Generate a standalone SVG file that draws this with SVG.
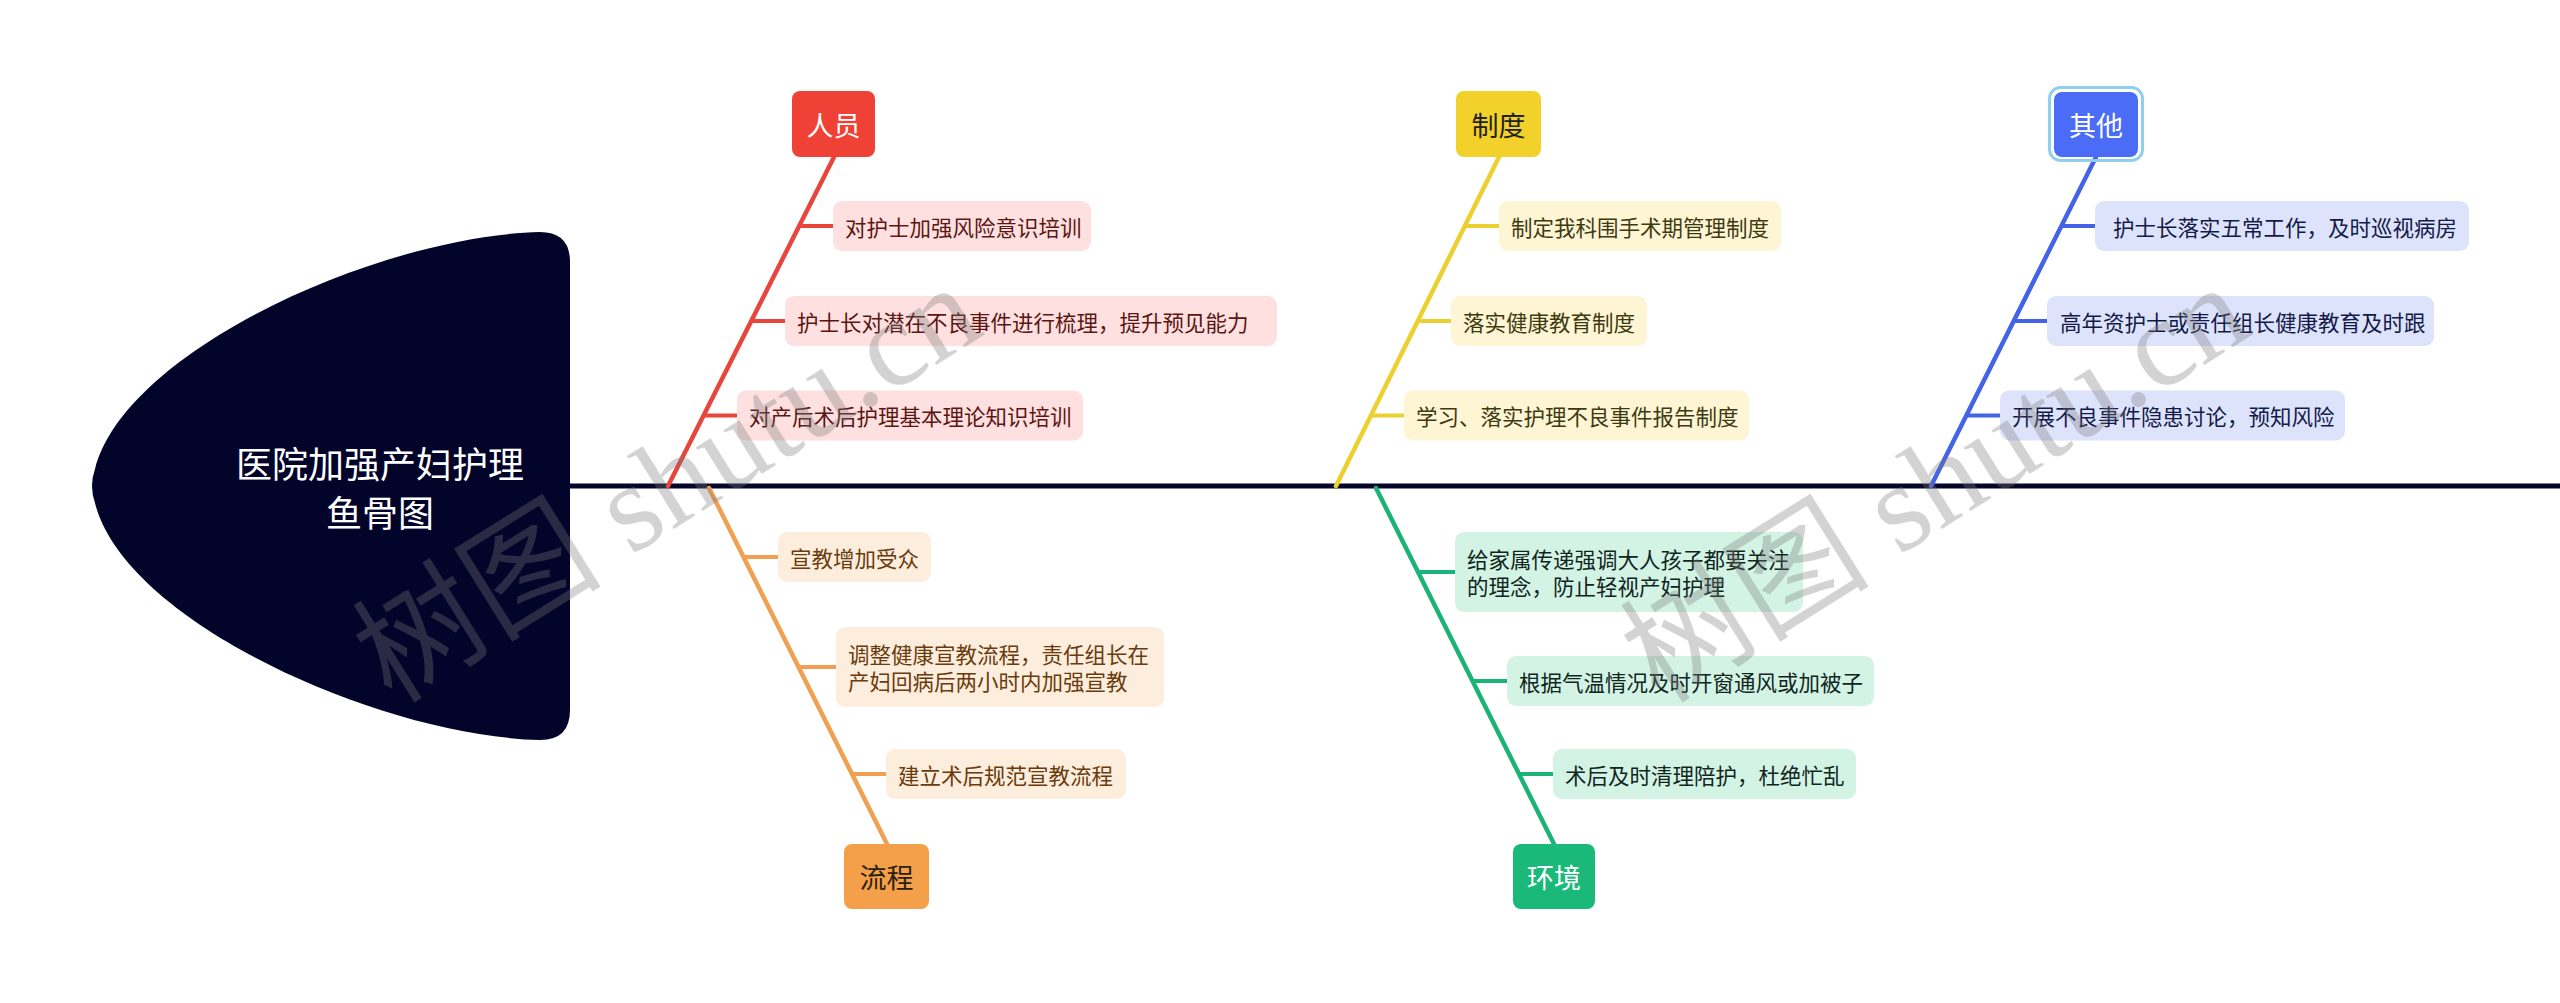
<svg xmlns="http://www.w3.org/2000/svg" width="2560" height="1003" viewBox="0 0 2560 1003">
<style>
text{font-family:"Noto Sans CJK SC","Liberation Sans",sans-serif}
.cat{font-size:27px;text-anchor:middle;dominant-baseline:central}
.sub{font-size:21.5px;dominant-baseline:central}
.bone{fill:none;stroke-width:4.5;stroke-linecap:round}
.stub{fill:none;stroke-width:4}
.wm{font-family:"Liberation Serif","Noto Sans CJK SC",serif;font-size:125px;fill:#7a7a7a;fill-opacity:0.33}
</style>
<rect width="2560" height="1003" fill="#ffffff"/>
<g id="head">
<path d="M540 232 Q570 232 570 262 L570 710 Q570 740 540 740 C380 736 125 622 95 503 Q89 486 95 469 C125 350 380 236 540 232 Z" fill="#03042a"/>
<text x="380" y="462" font-size="36" fill="#ffffff" text-anchor="middle" dominant-baseline="central">医院加强产妇护理</text>
<text x="380" y="511" font-size="36" fill="#ffffff" text-anchor="middle" dominant-baseline="central">鱼骨图</text>
</g>
<g id="connectors">
<line x1="570" y1="486" x2="2560" y2="486" stroke="#050628" stroke-width="5"/>
<g stroke="#e8453c">
<line class="bone" x1="834" y1="157" x2="668" y2="486"/>
<line class="stub" x1="799" y1="226" x2="833" y2="226"/>
<line class="stub" x1="751" y1="321" x2="785" y2="321"/>
<line class="stub" x1="704" y1="415.5" x2="737" y2="415.5"/>
</g>
<g stroke="#f0a050">
<line class="bone" x1="709" y1="488" x2="887" y2="844"/>
<line class="stub" x1="743.5" y1="557" x2="778" y2="557"/>
<line class="stub" x1="798.5" y1="667" x2="836" y2="667"/>
<line class="stub" x1="852" y1="774" x2="886" y2="774"/>
</g>
<g stroke="#ecd030">
<line class="bone" x1="1499" y1="157" x2="1336" y2="486"/>
<line class="stub" x1="1465" y1="226" x2="1499" y2="226"/>
<line class="stub" x1="1418" y1="321" x2="1451" y2="321"/>
<line class="stub" x1="1371" y1="415.5" x2="1404" y2="415.5"/>
</g>
<g stroke="#1ab478">
<line class="bone" x1="1376" y1="488" x2="1554" y2="844"/>
<line class="stub" x1="1418" y1="572" x2="1455" y2="572"/>
<line class="stub" x1="1472.5" y1="681" x2="1507" y2="681"/>
<line class="stub" x1="1519" y1="774" x2="1553" y2="774"/>
</g>
<g stroke="#4563e6">
<line class="bone" x1="2096" y1="157" x2="1931" y2="486"/>
<line class="stub" x1="2061" y1="226" x2="2095" y2="226"/>
<line class="stub" x1="2014" y1="321" x2="2047" y2="321"/>
<line class="stub" x1="1966" y1="415.5" x2="2000" y2="415.5"/>
</g>
</g>
<g id="cat-renyuan"><rect x="792" y="91" width="83" height="66" rx="8" fill="#ef4136"/><text class="cat" x="833.5" y="124" fill="#ffffff">人员</text></g>
<g id="cat-liucheng"><rect x="844" y="844" width="85" height="65" rx="8" fill="#f4a04a"/><text class="cat" x="886.5" y="876.5" fill="#2b2010">流程</text></g>
<g id="cat-zhidu"><rect x="1456" y="91" width="85" height="66" rx="8" fill="#f2d12a"/><text class="cat" x="1498.5" y="124" fill="#222222">制度</text></g>
<g id="cat-huanjing"><rect x="1513" y="844" width="82" height="65" rx="8" fill="#1bb979"/><text class="cat" x="1554" y="876.5" fill="#ffffff">环境</text></g>
<g id="cat-qita"><rect x="2049.5" y="87.5" width="93" height="73" rx="11" fill="none" stroke="#90d0ec" stroke-width="3"/><rect x="2054" y="92" width="84" height="65" rx="8" fill="#4a6cf7"/><text class="cat" x="2096" y="124.5" fill="#ffffff">其他</text></g>
<g id="r1"><rect x="833" y="201" width="258" height="50" rx="9" fill="#fde0df"/><text class="sub" x="845" y="226" fill="#5c1512">对护士加强风险意识培训</text></g>
<g id="r2"><rect x="785" y="296" width="492" height="50" rx="9" fill="#fde0df"/><text class="sub" x="797" y="321" fill="#5c1512">护士长对潜在不良事件进行梳理，提升预见能力</text></g>
<g id="r3"><rect x="737" y="390.5" width="346" height="50" rx="9" fill="#fde0df"/><text class="sub" x="749" y="415.5" fill="#5c1512">对产后术后护理基本理论知识培训</text></g>
<g id="o1"><rect x="778" y="532" width="153" height="50" rx="9" fill="#fdeddd"/><text class="sub" x="790" y="557" fill="#6a3b0c">宣教增加受众</text></g>
<g id="o2"><rect x="836" y="627" width="328" height="80" rx="9" fill="#fdeddd"/><text class="sub" x="848" y="653.5" fill="#6a3b0c">调整健康宣教流程，责任组长在</text><text class="sub" x="848" y="680.5" fill="#6a3b0c">产妇回病后两小时内加强宣教</text></g>
<g id="o3"><rect x="886" y="749" width="240" height="50" rx="9" fill="#fdeddd"/><text class="sub" x="898" y="774" fill="#6a3b0c">建立术后规范宣教流程</text></g>
<g id="y1"><rect x="1499" y="201" width="282" height="50" rx="9" fill="#fdf5d3"/><text class="sub" x="1511" y="226" fill="#3d3a12">制定我科围手术期管理制度</text></g>
<g id="y2"><rect x="1451" y="296" width="196" height="50" rx="9" fill="#fdf5d3"/><text class="sub" x="1463" y="321" fill="#3d3a12">落实健康教育制度</text></g>
<g id="y3"><rect x="1404" y="390.5" width="345" height="50" rx="9" fill="#fdf5d3"/><text class="sub" x="1416" y="415.5" fill="#3d3a12">学习、落实护理不良事件报告制度</text></g>
<g id="g1"><rect x="1455" y="532" width="348" height="80" rx="9" fill="#d3f3e5"/><text class="sub" x="1467" y="558.5" fill="#10261c">给家属传递强调大人孩子都要关注</text><text class="sub" x="1467" y="585.5" fill="#10261c">的理念，防止轻视产妇护理</text></g>
<g id="g2"><rect x="1507" y="656" width="367" height="50" rx="9" fill="#d3f3e5"/><text class="sub" x="1519" y="681" fill="#10261c">根据气温情况及时开窗通风或加被子</text></g>
<g id="g3"><rect x="1553" y="749" width="303" height="50" rx="9" fill="#d3f3e5"/><text class="sub" x="1565" y="774" fill="#10261c">术后及时清理陪护，杜绝忙乱</text></g>
<g id="b1"><rect x="2095" y="201" width="374" height="50" rx="9" fill="#dde3fb"/><text class="sub" x="2113" y="226" fill="#131a48">护士长落实五常工作，及时巡视病房</text></g>
<g id="b2"><rect x="2047" y="296" width="387" height="50" rx="9" fill="#dde3fb"/><text class="sub" x="2060" y="321" fill="#131a48">高年资护士或责任组长健康教育及时跟</text></g>
<g id="b3"><rect x="2000" y="390.5" width="345" height="50" rx="9" fill="#dde3fb"/><text class="sub" x="2012" y="415.5" fill="#131a48">开展不良事件隐患讨论，预知风险</text></g>
<g id="watermarks">
<text class="wm" transform="translate(392 705) rotate(-32)">树图 shutu.cn</text>
<text class="wm" transform="translate(1660 705) rotate(-32)">树图 shutu.cn</text>
</g>
</svg>
